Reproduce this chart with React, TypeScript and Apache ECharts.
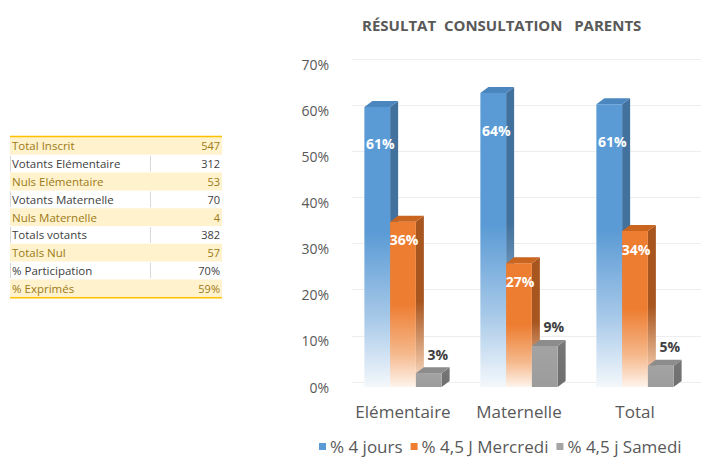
import { useEffect, useRef } from "react";
import * as echarts from "echarts";

const categories = ["Elémentaire", "Maternelle", "Total"];
const seriesNames = ["% 4 jours", "% 4,5 J Mercredi", "% 4,5 j Samedi"];
const quatreJours = [0.607, 0.637, 0.613];
const mercredi = [0.358, 0.268, 0.338];
const samedi = [0.03, 0.089, 0.046];

const tableLabels = [
  "Total Inscrit",
  "Votants Elémentaire",
  "Nuls Elémentaire",
  "Votants Maternelle",
  "Nuls Maternelle",
  "Totals votants",
  "Totals Nul",
  "% Participation",
  "% Exprimés",
];
const tableValues = ["547", "312", "53", "70", "4", "382", "57", "70%", "59%"];

const FONT = "'Open Sans', sans-serif";

const seriesStyles = [
  {
    color: "#5B9BD5",
    front: [
      [0, "#5B9BD5"],
      [0.45, "#5B9BD5"],
      [0.75, "#A6C8E8"],
      [1, "#F4F8FC"],
    ],
    side: [
      [0, "#41719C"],
      [0.45, "#41719C"],
      [0.8, "#9DBBD8"],
      [1, "#EEF3F9"],
    ],
    top: "#4C86BE",
    labelColor: "#FFFFFF",
    lx: 3,
    ly: 37,
  },
  {
    color: "#ED7D31",
    front: [
      [0, "#ED7D31"],
      [0.5, "#ED7D31"],
      [0.8, "#F5B98D"],
      [1, "#FEF4EC"],
    ],
    side: [
      [0, "#A85620"],
      [0.5, "#A85620"],
      [0.85, "#E8B996"],
      [1, "#FBEDE3"],
    ],
    top: "#C9651F",
    labelColor: "#FFFFFF",
    lx: 1,
    ly: 18,
  },
  {
    color: "#A5A5A5",
    front: [
      [0, "#A3A3A3"],
      [1, "#9C9C9C"],
    ],
    side: [
      [0, "#777777"],
      [1, "#6E6E6E"],
    ],
    top: "#8C8C8C",
    labelColor: "#404040",
    lx: 9,
    ly: -19,
  },
];

function makeRender(k: number) {
  const st = seriesStyles[k];
  const grad = (stops: any[]) => ({
    type: "linear",
    x: 0,
    y: 0,
    x2: 0,
    y2: 1,
    colorStops: stops.map((s) => ({ offset: s[0], color: s[1] })),
  });
  return (params: any, api: any) => {
    const cat = api.value(0);
    const val = api.value(1);
    const top = api.coord([cat, val]);
    const base = api.coord([cat, 0]);
    const band = api.size([1, 0])[0];
    const w = band * 0.222;
    const cx = top[0] + (k - 1) * w;
    const x0 = cx - w / 2;
    const x1 = cx + w / 2;
    const yT = top[1];
    const yB = base[1];
    const dx = 8;
    const dy = -6;
    const label = Math.round(val * 100) + "%";
    return {
      type: "group",
      children: [
        {
          type: "polygon",
          shape: {
            points: [
              [x1, yT],
              [x1 + dx, yT + dy],
              [x1 + dx, yB + dy],
              [x1, yB],
            ],
          },
          style: { fill: grad(st.side) },
        },
        {
          type: "rect",
          shape: { x: x0, y: yT, width: w, height: yB - yT },
          style: { fill: grad(st.front) },
        },
        {
          type: "polygon",
          shape: {
            points: [
              [x0, yT],
              [x0 + dx, yT + dy],
              [x1 + dx, yT + dy],
              [x1, yT],
            ],
          },
          style: { fill: st.top },
        },
        {
          type: "text",
          x: cx + st.lx,
          y: yT + st.ly,
          style: {
            text: label,
            fill: st.labelColor,
            fontSize: 14,
            fontWeight: "bold",
            fontFamily: FONT,
            align: "center",
            verticalAlign: "middle",
            textAlign: "center",
            textVerticalAlign: "middle",
          },
        },
      ],
    };
  };
}

function buildTable() {
  const els: any[] = [];
  const left = 10;
  const right = 222;
  const sep = 150.5;
  const top0 = 137;
  const rh = 17.8;
  tableLabels.forEach((lab, i) => {
    const y = top0 + i * rh;
    const shaded = i % 2 === 0;
    if (shaded) {
      els.push({
        type: "rect",
        shape: { x: left, y, width: right - left, height: rh },
        style: { fill: "#FFF2CC" },
        silent: true,
      });
    } else {
      els.push({
        type: "line",
        shape: { x1: left + 0.5, y1: y + 1, x2: left + 0.5, y2: y + rh - 1 },
        style: { stroke: "#D9D9D9", lineWidth: 1 },
      });
      els.push({
        type: "line",
        shape: { x1: sep, y1: y + 1, x2: sep, y2: y + rh - 1 },
        style: { stroke: "#D9D9D9", lineWidth: 1 },
      });
    }
    const col = shaded ? "#9C7A17" : "#404040";
    els.push({
      type: "text",
      x: left + 2,
      y: y + rh / 2,
      style: {
        text: lab,
        fill: col,
        fontSize: 11.5,
        fontFamily: FONT,
        align: "left",
        verticalAlign: "middle",
        textAlign: "left",
        textVerticalAlign: "middle",
      },
    });
    els.push({
      type: "text",
      x: right - 2,
      y: y + rh / 2,
      style: {
        text: tableValues[i],
        fill: col,
        fontSize: 11,
        fontFamily: FONT,
        align: "right",
        verticalAlign: "middle",
        textAlign: "right",
        textVerticalAlign: "middle",
      },
    });
  });
  const bottom = top0 + tableLabels.length * rh;
  els.push({
    type: "line",
    shape: { x1: left, y1: top0 - 0.5, x2: right, y2: top0 - 0.5 },
    style: { stroke: "#FFC000", lineWidth: 1.5 },
  });
  els.push({
    type: "line",
    shape: { x1: left, y1: bottom + 0.5, x2: right, y2: bottom + 0.5 },
    style: { stroke: "#FFC000", lineWidth: 1.5 },
  });
  return els;
}

export default function App() {
  const ref = useRef<HTMLDivElement>(null);
  useEffect(() => {
    if (!ref.current) return;
    const chart = echarts.init(ref.current, null, { renderer: "svg" });
    const allData = [quatreJours, mercredi, samedi];
    const option: any = {
      animation: false,
      backgroundColor: "#FFFFFF",
      textStyle: { fontFamily: FONT },
      title: {
        text: "RÉSULTAT  CONSULTATION   PARENTS",
        left: 357,
        top: 12,
        textStyle: {
          fontFamily: FONT,
          fontSize: 15,
          fontWeight: "bold",
          color: "#595959",
        },
      },
      legend: {
        data: seriesNames,
        left: 319,
        top: 438,
        padding: 0,
        icon: "rect",
        itemWidth: 7,
        itemHeight: 7,
        itemGap: 8,
        textStyle: { fontFamily: FONT, fontSize: 17, color: "#595959", padding: [0, 0, 0, -1] },
      },
      grid: [
        { left: 352, right: 0, top: 59, bottom: 75 },
        { left: 345, right: 8, top: 64, bottom: 70 },
      ],
      xAxis: [
        {
          gridIndex: 0,
          type: "category",
          data: categories,
          show: false,
        },
        {
          gridIndex: 1,
          type: "category",
          data: categories,
          axisLine: { show: false },
          axisTick: { show: false },
          axisLabel: {
            interval: 0,
            margin: 16,
            fontSize: 17,
            color: "#595959",
            fontFamily: FONT,
          },
        },
      ],
      yAxis: [
        {
          gridIndex: 0,
          type: "value",
          min: 0,
          max: 0.7,
          interval: 0.1,
          axisLabel: { show: false },
          axisLine: { show: false },
          axisTick: { show: false },
          splitLine: { lineStyle: { color: "#EDEDED", width: 1 } },
        },
        {
          gridIndex: 1,
          type: "value",
          min: 0,
          max: 0.7,
          interval: 0.1,
          axisLine: { show: false },
          axisTick: { show: false },
          splitLine: { show: false },
          axisLabel: {
            margin: 16,
            fontSize: 14,
            color: "#595959",
            fontFamily: FONT,
            formatter: (v: number) => Math.round(v * 100) + "%",
          },
        },
      ],
      series: seriesNames.map((name, k) => ({
        name,
        type: "custom",
        xAxisIndex: 1,
        yAxisIndex: 1,
        itemStyle: { color: seriesStyles[k].color },
        encode: { x: 0, y: 1 },
        renderItem: makeRender(k),
        data: allData[k].map((v, i) => [i, v]),
        clip: false,
      })),
      graphic: buildTable(),
    };
    chart.setOption(option);
    return () => chart.dispose();
  }, []);
  return (
    <div
      ref={ref}
      style={{ position: "absolute", left: 0, top: 0, width: 701, height: 457 }}
    />
  );
}
